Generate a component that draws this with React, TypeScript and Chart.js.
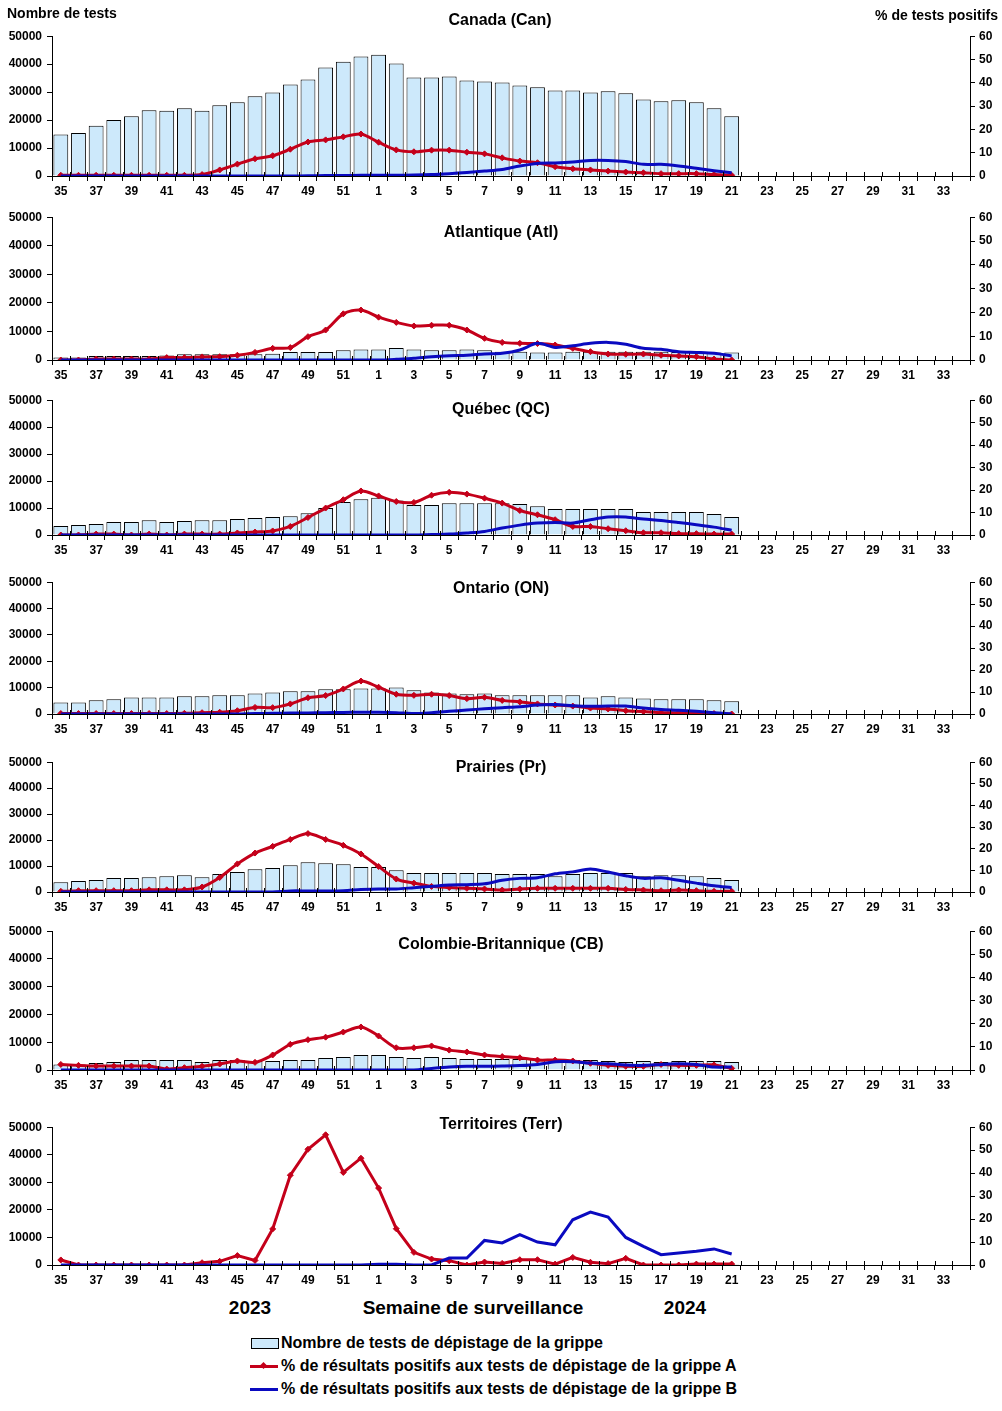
import React, { useEffect, useRef } from 'react';
import { Chart, registerables } from 'chart.js';

Chart.register(...registerables);

// ---------- DATA ----------
const WEEK_LABELS = [
  '35', '36', '37', '38', '39', '40', '41', '42', '43', '44', '45', '46', '47', '48', '49', '50', '51', '52',
  '1', '2', '3', '4', '5', '6', '7', '8', '9', '10', '11', '12', '13', '14', '15', '16', '17', '18', '19', '20',
  '21', '22', '23', '24', '25', '26', '27', '28', '29', '30', '31', '32', '33', '34',
];

const TESTS_AXIS_TICKS = [0, 10000, 20000, 30000, 40000, 50000];
const PCT_AXIS_TICKS = [0, 10, 20, 30, 40, 50, 60];

// Canada
const canTests = [14800, 15400, 18000, 20000, 21400, 23500, 23300, 24200, 23300, 25300, 26400, 28500, 29900, 32700, 34500, 38800, 40900, 42700,
  43400, 40200, 35200, 35200, 35600, 34200, 33800, 33400, 32400, 31700, 30600, 30600, 29900, 30300, 29600, 27400, 26700, 27100, 26400, 24200, 21400];
const canFluA = [0.3, 0.3, 0.3, 0.3, 0.3, 0.3, 0.3, 0.3, 0.6, 2.6, 5.1, 7.4, 8.7, 11.5, 14.6, 15.5, 16.8, 18.0,
  14.5, 11.2, 10.4, 11.1, 11.1, 10.2, 9.5, 7.8, 6.4, 5.7, 4.0, 3.1, 2.6, 2.1, 1.7, 1.4, 1.0, 1.0, 1.0, 0.6, 0.3];
const canFluB = [0, 0, 0, 0, 0, 0, 0, 0, 0, 0, 0, 0, 0, 0, 0.1, 0.2, 0.2, 0.3,
  0.3, 0.3, 0.4, 0.6, 1.0, 1.5, 2.1, 2.8, 4.3, 5.4, 5.6, 6.0, 6.7, 6.7, 6.2, 5.0, 5.0, 4.3, 3.3, 2.3, 1.4];

// Atlantique
const atlTests = [900, 900, 1400, 1400, 1400, 1400, 1600, 2000, 2000, 2000, 2000, 2000, 2200, 2800, 2800, 2800, 3400, 3700,
  3700, 4200, 3700, 3400, 3400, 3700, 3400, 2900, 2900, 2600, 2600, 2900, 2900, 2900, 2900, 2900, 2900, 2800, 2600, 2600, 2600];
const atlFluA = [0, 0, 0.4, 0.4, 0.4, 0.4, 1.0, 1.0, 1.3, 1.4, 2.0, 3.2, 4.9, 5.2, 9.8, 12.6, 19.4, 21.0,
  18.0, 15.8, 14.3, 14.6, 14.6, 12.6, 9.1, 7.4, 7.0, 6.9, 6.3, 4.9, 3.5, 2.5, 2.4, 2.5, 2.0, 1.7, 1.4, 0.4, 0];
const atlFluB = [0, 0, 0, 0, 0, 0, 0, 0, 0, 0, 0, 0, 0, 0, 0, 0, 0, 0,
  0, 0.3, 0.7, 1.4, 1.8, 2.0, 2.5, 2.8, 4.2, 7.0, 5.3, 6.0, 7.0, 7.4, 6.6, 4.9, 4.5, 3.5, 3.2, 2.8, 1.7];

// Québec
const qcTests = [3300, 3700, 4100, 4800, 4800, 5500, 4800, 5200, 5500, 5500, 5900, 6300, 6700, 7000, 8100, 10000, 12200, 13300,
  13800, 12800, 11100, 11100, 11800, 11800, 11800, 11800, 11500, 10700, 9600, 9600, 9600, 9600, 9600, 8500, 8500, 8500, 8500, 7800, 6700];
const qcFluA = [0, 0, 0.4, 0.4, 0, 0.4, 0, 0.4, 0.4, 0.4, 0.9, 1.3, 1.8, 3.8, 7.8, 12.0, 15.7, 19.6,
  17.4, 14.9, 14.5, 17.7, 19.0, 18.2, 16.4, 14.2, 10.9, 9.0, 6.8, 3.8, 3.8, 2.8, 1.9, 1.0, 1.0, 0.6, 0.6, 0.4, 0.4];
const qcFluB = [0, 0, 0, 0, 0, 0, 0, 0, 0, 0, 0, 0, 0, 0, 0, 0, 0, 0,
  0, 0, 0, 0.2, 0.4, 0.9, 1.6, 3.1, 4.4, 5.3, 5.6, 5.3, 6.8, 8.0, 8.0, 7.1, 6.5, 5.6, 4.6, 3.5, 2.1];

// Ontario
const onTests = [4400, 4400, 5200, 5600, 6300, 6300, 6300, 6700, 6700, 7100, 7100, 7800, 8200, 8600, 8600, 9400, 9400, 9700,
  9700, 10100, 9000, 8200, 7800, 7500, 7800, 7100, 7100, 7100, 7100, 7100, 6300, 6700, 6300, 5900, 5600, 5600, 5600, 5200, 4800];
const onFluA = [0.2, 0.2, 0.2, 0.2, 0.2, 0.2, 0.2, 0.3, 0.6, 0.8, 1.5, 3.0, 2.9, 4.6, 7.4, 8.4, 11.4, 15.0,
  12.2, 9.0, 8.5, 9.0, 8.4, 7.0, 7.6, 6.2, 5.5, 4.6, 4.1, 3.6, 2.7, 2.3, 1.5, 1.1, 0.6, 0.6, 0.3, 0.2, 0];
const onFluB = [0, 0, 0, 0, 0, 0, 0, 0, 0, 0, 0, 0.2, 0.3, 0.4, 0.5, 0.6, 0.7, 0.8,
  0.8, 0.6, 0.2, 0.6, 1.2, 1.8, 2.4, 2.9, 3.3, 4.1, 4.3, 3.8, 3.5, 3.6, 3.6, 2.7, 2.1, 1.7, 1.2, 0.6, 0];

// Prairies
const prTests = [3800, 4200, 4600, 5400, 5400, 5700, 6100, 6500, 5700, 6900, 7700, 8800, 9200, 10300, 11500, 11100, 10700, 9600,
  9600, 8400, 7300, 7300, 7300, 7300, 7300, 6900, 6900, 6900, 6100, 6900, 7300, 7300, 7300, 6100, 6500, 6500, 6100, 5400, 4600];
const prFluA = [0.3, 0.6, 0.6, 0.6, 0.6, 1.0, 1.0, 1.0, 2.3, 6.7, 13.0, 18.0, 21.1, 24.3, 27.0, 24.3, 21.6, 17.6,
  11.8, 6.0, 4.1, 2.6, 2.1, 1.7, 1.4, 0.9, 1.4, 1.7, 1.7, 1.7, 1.7, 1.7, 1.2, 0.9, 0.6, 0.9, 0.6, 0.3, 0.3];
const prFluB = [0, 0, 0, 0, 0, 0, 0, 0, 0, 0, 0, 0, 0, 0.5, 0.5, 0.5, 0.6, 1.1,
  1.4, 1.4, 2.0, 2.6, 3.2, 3.4, 3.8, 5.4, 6.3, 6.6, 8.4, 9.3, 10.6, 9.2, 7.5, 6.3, 6.6, 5.4, 4.1, 2.9, 2.0];

// Colombie-Britannique
const cbTests = [2000, 2000, 2500, 2900, 3600, 3600, 3600, 3600, 2900, 3600, 3600, 3200, 3200, 3600, 3600, 4300, 4700, 5400,
  5400, 4700, 4300, 4700, 4300, 4000, 4000, 4000, 4000, 4000, 3600, 3600, 3600, 3200, 2900, 3200, 2900, 3200, 3200, 3200, 2900];
const cbFluA = [2.4, 2.0, 1.7, 1.7, 1.7, 1.7, 0.4, 1.0, 1.6, 2.6, 3.9, 3.3, 6.5, 11.1, 13.1, 14.2, 16.4, 18.6,
  14.7, 9.6, 9.6, 10.4, 8.6, 7.8, 6.5, 5.8, 5.3, 4.3, 4.3, 3.9, 2.9, 2.0, 1.6, 1.6, 2.4, 2.0, 2.0, 2.2, 0.7];
const cbFluB = [0, 0, 0, 0, 0, 0, 0, 0, 0, 0, 0, 0, 0, 0, 0, 0, 0, 0,
  0, 0, 0, 0.7, 1.3, 1.6, 1.6, 1.7, 1.9, 2.4, 3.6, 3.6, 3.0, 2.7, 2.2, 2.0, 2.4, 2.7, 2.4, 1.3, 1.3];

// Territoires
const terrTests = [150, 140, 130, 140, 150, 150, 160, 150, 160, 170, 180, 190, 200, 230, 240, 250, 230, 220,
  240, 230, 200, 190, 180, 180, 170, 170, 180, 170, 160, 170, 170, 160, 160, 150, 140, 140, 140, 130, 120];
const terrFluA = [2.2, 0, 0, 0, 0, 0, 0, 0, 1.0, 1.6, 4.1, 2.0, 15.7, 39.1, 50.4, 56.7, 40.3, 46.5,
  33.5, 15.8, 5.5, 2.6, 1.9, 0, 1.3, 0.7, 2.3, 2.3, 0.4, 3.3, 1.2, 0.6, 2.9, 0, 0, 0, 0.4, 0.4, 0.4];
const terrFluB = [0, 0, 0, 0, 0, 0, 0, 0, 0, 0, 0, 0, 0, 0, 0, 0, 0, 0,
  0.3, 0.3, 0, 0, 3.0, 3.0, 10.7, 9.6, 13.2, 10.0, 8.8, 19.7, 23.0, 20.9, 12.0, 8.1, 4.5, 5.2, 6.0, 7.0, 4.8];

// ---------- STYLE ----------
const FONT = '"Liberation Sans", Arial, Helvetica, sans-serif';
const BAR_FILL = '#cde9fb';
const RED = '#c4001a';
const BLUE = '#0a0ac0';
const PAD_TOP = 12;
const X_AXIS_H = 28;

type PanelCfg = {
  title: string;
  tests: number[];
  fluA: number[];
  fluB: number[];
  top: number;
  bottom: number;
  titleY: number;
  titleX: number;
  tension: number;
};

const PANELS: PanelCfg[] = [
  { title: 'Canada (Can)', tests: canTests, fluA: canFluA, fluB: canFluB, top: 36, bottom: 176, titleY: 20, titleX: 500, tension: 0.3 },
  { title: 'Atlantique (Atl)', tests: atlTests, fluA: atlFluA, fluB: atlFluB, top: 217, bottom: 360, titleY: 232, titleX: 501, tension: 0.3 },
  { title: 'Québec (QC)', tests: qcTests, fluA: qcFluA, fluB: qcFluB, top: 400, bottom: 535, titleY: 409, titleX: 501, tension: 0.3 },
  { title: 'Ontario (ON)', tests: onTests, fluA: onFluA, fluB: onFluB, top: 582, bottom: 714, titleY: 588, titleX: 501, tension: 0.3 },
  { title: 'Prairies (Pr)', tests: prTests, fluA: prFluA, fluB: prFluB, top: 762, bottom: 892, titleY: 767, titleX: 501, tension: 0.3 },
  { title: 'Colombie-Britannique (CB)', tests: cbTests, fluA: cbFluA, fluB: cbFluB, top: 931, bottom: 1070, titleY: 944, titleX: 501, tension: 0.3 },
  { title: 'Territoires (Terr)', tests: terrTests, fluA: terrFluA, fluB: terrFluB, top: 1127, bottom: 1265, titleY: 1124, titleX: 501, tension: 0 },
];

const innerTicks = {
  id: 'innerTicks',
  afterDatasetsDraw(chart: any) {
    const { ctx, chartArea } = chart;
    const x = chart.scales.x;
    const n = WEEK_LABELS.length;
    ctx.save();
    ctx.strokeStyle = '#000';
    ctx.lineWidth = 1;
    for (let i = 0; i <= n; i++) {
      const px = Math.round(x.left + (i * x.width) / n) + 0.5;
      ctx.beginPath();
      ctx.moveTo(px, chartArea.bottom);
      ctx.lineTo(px, chartArea.bottom - 4);
      ctx.stroke();
    }
    ctx.restore();
  },
};

function Panel({ cfg }: { cfg: PanelCfg }) {
  const ref = useRef<HTMLCanvasElement>(null);
  useEffect(() => {
    if (!ref.current) return;
    const tickFont = { family: FONT, size: 12, weight: 'bold' as const };
    const chart = new Chart(ref.current, {
      type: 'bar',
      data: {
        labels: WEEK_LABELS,
        datasets: [
          {
            type: 'bar',
            data: cfg.tests,
            yAxisID: 'y',
            backgroundColor: BAR_FILL,
            borderColor: '#000',
            borderWidth: 1,
            categoryPercentage: 1,
            barPercentage: 0.84,
            order: 3,
          } as any,
          {
            type: 'line',
            data: cfg.fluA,
            yAxisID: 'y1',
            borderColor: RED,
            backgroundColor: RED,
            borderWidth: 3,
            pointStyle: 'rectRot',
            pointRadius: 3,
            pointBackgroundColor: RED,
            pointBorderColor: RED,
            pointBorderWidth: 1,
            tension: cfg.tension,
            order: 2,
          } as any,
          {
            type: 'line',
            data: cfg.fluB,
            yAxisID: 'y1',
            borderColor: BLUE,
            backgroundColor: BLUE,
            borderWidth: 3,
            pointRadius: 0,
            tension: cfg.tension,
            order: 1,
          } as any,
        ],
      },
      options: {
        animation: false,
        responsive: true,
        maintainAspectRatio: false,
        layout: { padding: { top: PAD_TOP, left: 0, right: 0, bottom: 0 } },
        plugins: { legend: { display: false }, tooltip: { enabled: false }, title: { display: false } },
        scales: {
          x: {
            offset: true,
            grid: { offset: true, drawOnChartArea: false, drawTicks: true, tickLength: 5, color: '#000', lineWidth: 1 },
            border: { color: '#000', width: 1 },
            ticks: {
              autoSkip: false,
              maxRotation: 0,
              minRotation: 0,
              padding: 3,
              color: '#000',
              font: tickFont,
              callback: (_v: any, i: number) => (i % 2 === 0 ? WEEK_LABELS[i] : ''),
            },
            afterFit: (s: any) => {
              s.height = X_AXIS_H;
            },
          },
          y: {
            position: 'left',
            min: TESTS_AXIS_TICKS[0],
            max: TESTS_AXIS_TICKS[TESTS_AXIS_TICKS.length - 1],
            afterBuildTicks: (s: any) => {
              s.ticks = TESTS_AXIS_TICKS.map((v) => ({ value: v }));
            },
            grid: { drawOnChartArea: false, drawTicks: true, tickLength: 5, color: '#000' },
            border: { color: '#000', width: 1 },
            ticks: { color: '#000', font: tickFont, padding: 5, callback: (v: any) => String(v) },
            afterFit: (s: any) => {
              s.width = 52;
            },
          },
          y1: {
            position: 'right',
            min: PCT_AXIS_TICKS[0],
            max: PCT_AXIS_TICKS[PCT_AXIS_TICKS.length - 1],
            afterBuildTicks: (s: any) => {
              s.ticks = PCT_AXIS_TICKS.map((v) => ({ value: v }));
            },
            grid: { drawOnChartArea: false, drawTicks: true, tickLength: 5, color: '#000' },
            border: { color: '#000', width: 1 },
            ticks: { color: '#000', font: tickFont, padding: 4, callback: (v: any) => String(v) },
            afterFit: (s: any) => {
              s.width = 32;
            },
          },
        },
      } as any,
      plugins: [innerTicks],
    });
    return () => chart.destroy();
  }, [cfg]);

  const height = cfg.bottom - cfg.top + PAD_TOP + X_AXIS_H;
  return (
    <>
      <div style={{ position: 'absolute', left: 0, top: cfg.top - PAD_TOP, width: 1002, height }}>
        <canvas ref={ref} />
      </div>
      <div
        style={{
          position: 'absolute',
          left: cfg.titleX - 200,
          width: 400,
          top: cfg.titleY - 10,
          lineHeight: '20px',
          textAlign: 'center',
          fontFamily: FONT,
          fontWeight: 'bold',
          fontSize: 16,
          color: '#000',
          whiteSpace: 'nowrap',
        }}
      >
        {cfg.title}
      </div>
    </>
  );
}

const textStyle: React.CSSProperties = {
  position: 'absolute',
  fontFamily: FONT,
  fontWeight: 'bold',
  color: '#000',
  whiteSpace: 'nowrap',
};

function LegendRow({ y, kind, label }: { y: number; kind: 'bar' | 'red' | 'blue'; label: string }) {
  return (
    <>
      {kind === 'bar' ? (
        <div
          style={{
            position: 'absolute',
            left: 251,
            top: y - 5,
            width: 26,
            height: 9,
            background: BAR_FILL,
            border: '1px solid #000',
          }}
        />
      ) : (
        <>
          <div style={{ position: 'absolute', left: 250, top: y - 1.5, width: 28, height: 3, background: kind === 'red' ? RED : BLUE }} />
          {kind === 'red' && (
            <div
              style={{
                position: 'absolute',
                left: 261,
                top: y - 3,
                width: 5,
                height: 5,
                background: RED,
                transform: 'rotate(45deg)',
              }}
            />
          )}
        </>
      )}
      <div style={{ ...textStyle, left: 281, top: y - 10, fontSize: 16, lineHeight: '20px' }}>{label}</div>
    </>
  );
}

export default function App() {
  return (
    <div style={{ position: 'absolute', left: 0, top: 0, width: 1002, height: 1411, background: '#fff', overflow: 'hidden' }}>
      {PANELS.map((p) => (
        <Panel key={p.title} cfg={p} />
      ))}
      <div style={{ ...textStyle, left: 7, top: 4, fontSize: 14, lineHeight: '18px' }}>Nombre de tests</div>
      <div style={{ ...textStyle, right: 4, top: 6, fontSize: 14, lineHeight: '18px', textAlign: 'right' }}>% de tests positifs</div>

      <div style={{ ...textStyle, left: 150, width: 200, textAlign: 'center', top: 1296, fontSize: 19, lineHeight: '24px' }}>2023</div>
      <div style={{ ...textStyle, left: 273, width: 400, textAlign: 'center', top: 1296, fontSize: 19, lineHeight: '24px' }}>
        Semaine de surveillance
      </div>
      <div style={{ ...textStyle, left: 585, width: 200, textAlign: 'center', top: 1296, fontSize: 19, lineHeight: '24px' }}>2024</div>

      <LegendRow y={1343} kind="bar" label="Nombre de tests de dépistage de la grippe" />
      <LegendRow y={1366} kind="red" label="% de résultats positifs aux tests de dépistage de la grippe A" />
      <LegendRow y={1389} kind="blue" label="% de résultats positifs aux tests de dépistage de la grippe B" />
    </div>
  );
}
